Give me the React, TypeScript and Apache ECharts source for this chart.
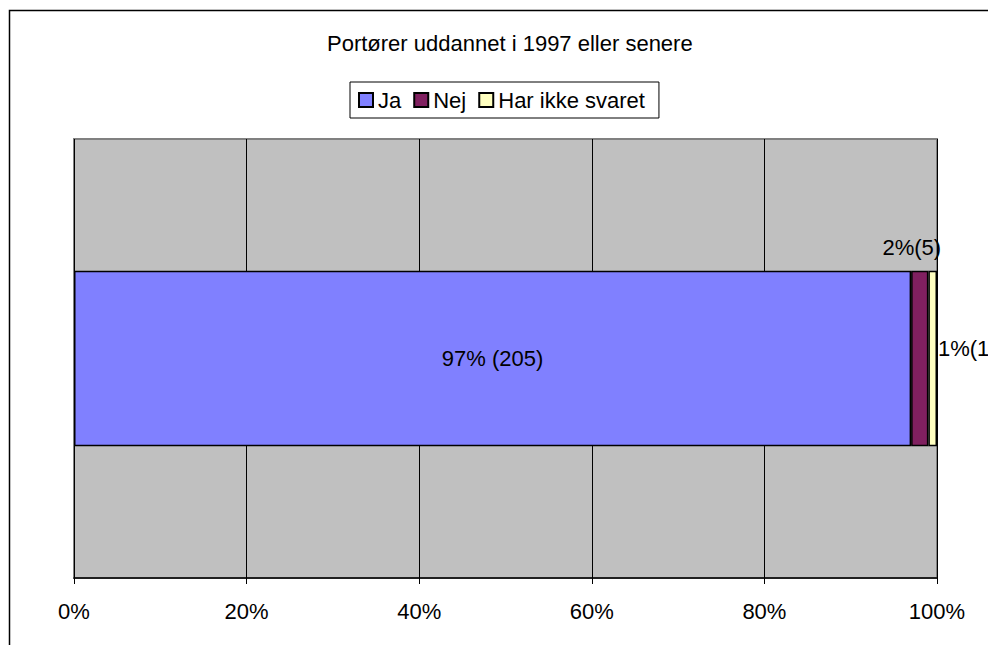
import React, { useEffect, useRef } from "react";
import * as echarts from "echarts";

const chartTitle = "Portører uddannet i 1997 eller senere";
const categories = ["Portører"];
const seriesNames = ["Ja", "Nej", "Har ikke svaret"];
const percentValues = [97, 2, 1];
const countValues = [205, 5, 1];
const labelSeparators = [" ", "", ""];
const xTicks = [0, 20, 40, 60, 80, 100];
const colors = ["#8080FF", "#802060", "#FFFFC0"];

const FONT = "'Liberation Sans', Arial, Helvetica, sans-serif";

export default function App() {
  const ref = useRef<HTMLDivElement>(null);

  useEffect(() => {
    if (!ref.current) return;
    const chart = echarts.init(ref.current, undefined, { renderer: "svg" });

    const labelConfigs: any[] = [
      { position: "inside" },
      { position: "top", distance: 12, offset: [-8, 0] },
      { position: "right", distance: 1, offset: [0, -10] },
    ];

    const series = seriesNames.map((name, i) => ({
      name,
      type: "bar",
      stack: "total",
      barWidth: "40%",
      data: [percentValues[i]],
      itemStyle: { color: colors[i], borderColor: "#000", borderWidth: 1.5 },
      label: {
        show: true,
        ...labelConfigs[i],
        color: "#000",
        fontSize: 22,
        fontFamily: FONT,
        formatter: () => `${percentValues[i]}%${labelSeparators[i]}(${countValues[i]})`,
      },
      emphasis: { disabled: true },
    }));

    chart.setOption({
      animation: false,
      textStyle: { fontFamily: FONT },
      title: {
        text: chartTitle,
        left: 322,
        top: 27,
        textStyle: { fontSize: 22, fontWeight: "normal", color: "#000", fontFamily: FONT },
      },
      legend: {
        data: seriesNames,
        left: 350,
        top: 82,
        padding: [7, 14, 7, 8],
        itemGap: 12,
        itemWidth: 14,
        itemHeight: 14,
        icon: "rect",
        borderColor: "#000",
        borderWidth: 1,
        backgroundColor: "#fff",
        selectedMode: false,
        itemStyle: { borderColor: "#000", borderWidth: 2 },
        textStyle: { fontSize: 22, color: "#000", fontFamily: FONT, padding: [0, 0, 0, 0] },
      },
      grid: {
        left: 74,
        top: 139,
        width: 863,
        height: 439,
        show: true,
        backgroundColor: "#C0C0C0",
        borderColor: "#808080",
        borderWidth: 2,
        containLabel: false,
      },
      xAxis: {
        type: "value",
        min: xTicks[0],
        max: xTicks[xTicks.length - 1],
        interval: xTicks[1] - xTicks[0],
        axisLine: { show: true, lineStyle: { color: "#000", width: 1.5 } },
        axisTick: { show: true, length: 6, lineStyle: { color: "#000" } },
        splitLine: { show: true, lineStyle: { color: "#000", width: 1 } },
        axisLabel: {
          formatter: "{value}%",
          fontSize: 22,
          color: "#000",
          fontFamily: FONT,
          margin: 22,
        },
      },
      yAxis: {
        type: "category",
        data: categories,
        show: false,
      },
      graphic: [
        {
          type: "rect",
          silent: true,
          shape: { x: 9.5, y: 10.5, width: 1200, height: 1000 },
          style: { fill: "none", stroke: "#000", lineWidth: 1.5 },
          z: 100,
        },
      ],
      series,
    });

    return () => chart.dispose();
  }, []);

  return (
    <div
      ref={ref}
      style={{ position: "absolute", left: 0, top: 0, width: 988, height: 645, background: "#fff" }}
    />
  );
}
